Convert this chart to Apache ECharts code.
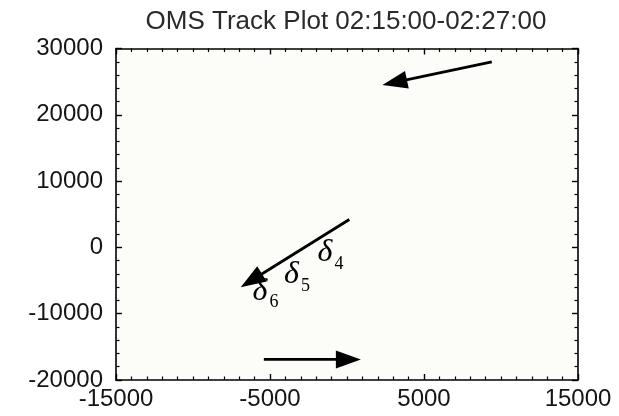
<!DOCTYPE html>
<html>
<head>
<meta charset="utf-8">
<script src="https://cdn.jsdelivr.net/npm/echarts@6/dist/echarts.min.js"></script>
<style>
  html, body { margin: 0; padding: 0; background: #ffffff; }
  #chart { width: 619px; height: 416px; }
</style>
</head>
<body>
<div id="chart"></div>
<script>
// Track segments: start and end (arrow tip) of each move, in metres
const trackStartX = [9400, 150, -5400];
const trackStartY = [28000, 4200, -16900];
const trackEndX = [2300, -6900, 900];
const trackEndY = [24500, -6000, -16900];

// Step annotations along the middle track
const stepSymbols = ['δ', 'δ', 'δ'];
const stepIndices = ['4', '5', '6'];
const stepX = [-1430, -3600, -5650];
const stepY = [-850, -4150, -6650];

// Axis ranges and tick spacing
const xRange = [-15000, 15000];
const yRange = [-20000, 30000];
const tickStep = 10000;

const titleText = 'OMS Track Plot 02:15:00-02:27:00';
const sansFont = '"Liberation Sans", Arial, sans-serif';
const serifFont = '"Liberation Serif", "Times New Roman", serif';

const chart = echarts.init(document.getElementById('chart'), null, { renderer: 'canvas' });

const trackData = trackStartX.map((x, i) => [x, trackStartY[i], trackEndX[i], trackEndY[i]]);
const stepData = stepX.map((x, i) => [x, stepY[i], stepSymbols[i], stepIndices[i]]);

function axisCommon(position, showLabels, range, minorSplit) {
  return {
    type: 'value',
    position: position,
    min: range[0],
    max: range[1],
    interval: tickStep,
    axisLine: { show: true, onZero: false, lineStyle: { color: '#000', width: 1.6 } },
    axisTick: { show: true, inside: true, length: 6, lineStyle: { color: '#000', width: 1.4 } },
    minorTick: { show: true, splitNumber: minorSplit, length: 3.5, lineStyle: { color: '#000', width: 1.2 } },
    splitLine: { show: false },
    minorSplitLine: { show: false },
    axisLabel: {
      show: showLabels,
      fontFamily: sansFont,
      fontSize: 24,
      color: '#151515',
      margin: position === 'bottom' ? 7 : 13,
      formatter: function (v) { return String(v); }
    }
  };
}

const option = {
  animation: false,
  backgroundColor: '#ffffff',
  grid: {
    left: 116, right: 41, top: 48.5, bottom: 36,
    show: true, backgroundColor: '#fcfcf9', borderWidth: 0
  },
  graphic: [{
    type: 'text',
    x: 346,
    y: 22,
    style: {
      text: titleText,
      fontFamily: sansFont,
      fontSize: 26,
      fill: '#2a2a2a',
      align: 'center',
      verticalAlign: 'middle'
    }
  }],
  xAxis: [
    axisCommon('bottom', true, xRange, 10),
    axisCommon('top', false, xRange, 10)
  ],
  yAxis: [
    axisCommon('left', true, yRange, 5),
    axisCommon('right', false, yRange, 5)
  ],
  series: [
    {
      type: 'custom',
      name: 'tracks',
      xAxisIndex: 0,
      yAxisIndex: 0,
      encode: { x: [0, 2], y: [1, 3] },
      data: trackData,
      renderItem: function (params, api) {
        const p0 = api.coord([api.value(0), api.value(1)]);
        const p1 = api.coord([api.value(2), api.value(3)]);
        const dx = p1[0] - p0[0];
        const dy = p1[1] - p0[1];
        const len = Math.hypot(dx, dy);
        const ux = dx / len, uy = dy / len;
        const headLen = 25, headHalf = 9;
        const bx = p1[0] - ux * headLen;
        const by = p1[1] - uy * headLen;
        return {
          type: 'group',
          children: [
            {
              type: 'line',
              shape: { x1: p0[0], y1: p0[1], x2: bx + ux * 3, y2: by + uy * 3 },
              style: { stroke: '#000', lineWidth: 2.8 }
            },
            {
              type: 'polygon',
              shape: {
                points: [
                  [p1[0], p1[1]],
                  [bx - uy * headHalf, by + ux * headHalf],
                  [bx + uy * headHalf, by - ux * headHalf]
                ]
              },
              style: { fill: '#000' }
            }
          ]
        };
      }
    },
    {
      type: 'custom',
      name: 'steps',
      xAxisIndex: 0,
      yAxisIndex: 0,
      encode: { x: 0, y: 1 },
      data: stepData,
      renderItem: function (params, api) {
        const p = api.coord([api.value(0), api.value(1)]);
        const item = stepData[params.dataIndex];
        return {
          type: 'group',
          children: [
            {
              type: 'text',
              x: p[0],
              y: p[1],
              style: {
                text: item[2],
                fontFamily: serifFont,
                fontStyle: 'italic',
                fontSize: 32,
                fill: '#000',
                align: 'center',
                verticalAlign: 'middle'
              }
            },
            {
              type: 'text',
              x: p[0] + 14,
              y: p[1] + 11,
              style: {
                text: item[3],
                fontFamily: serifFont,
                fontSize: 18,
                fill: '#000',
                align: 'center',
                verticalAlign: 'middle'
              }
            }
          ]
        };
      }
    }
  ]
};

chart.setOption(option);
</script>
</body>
</html>
